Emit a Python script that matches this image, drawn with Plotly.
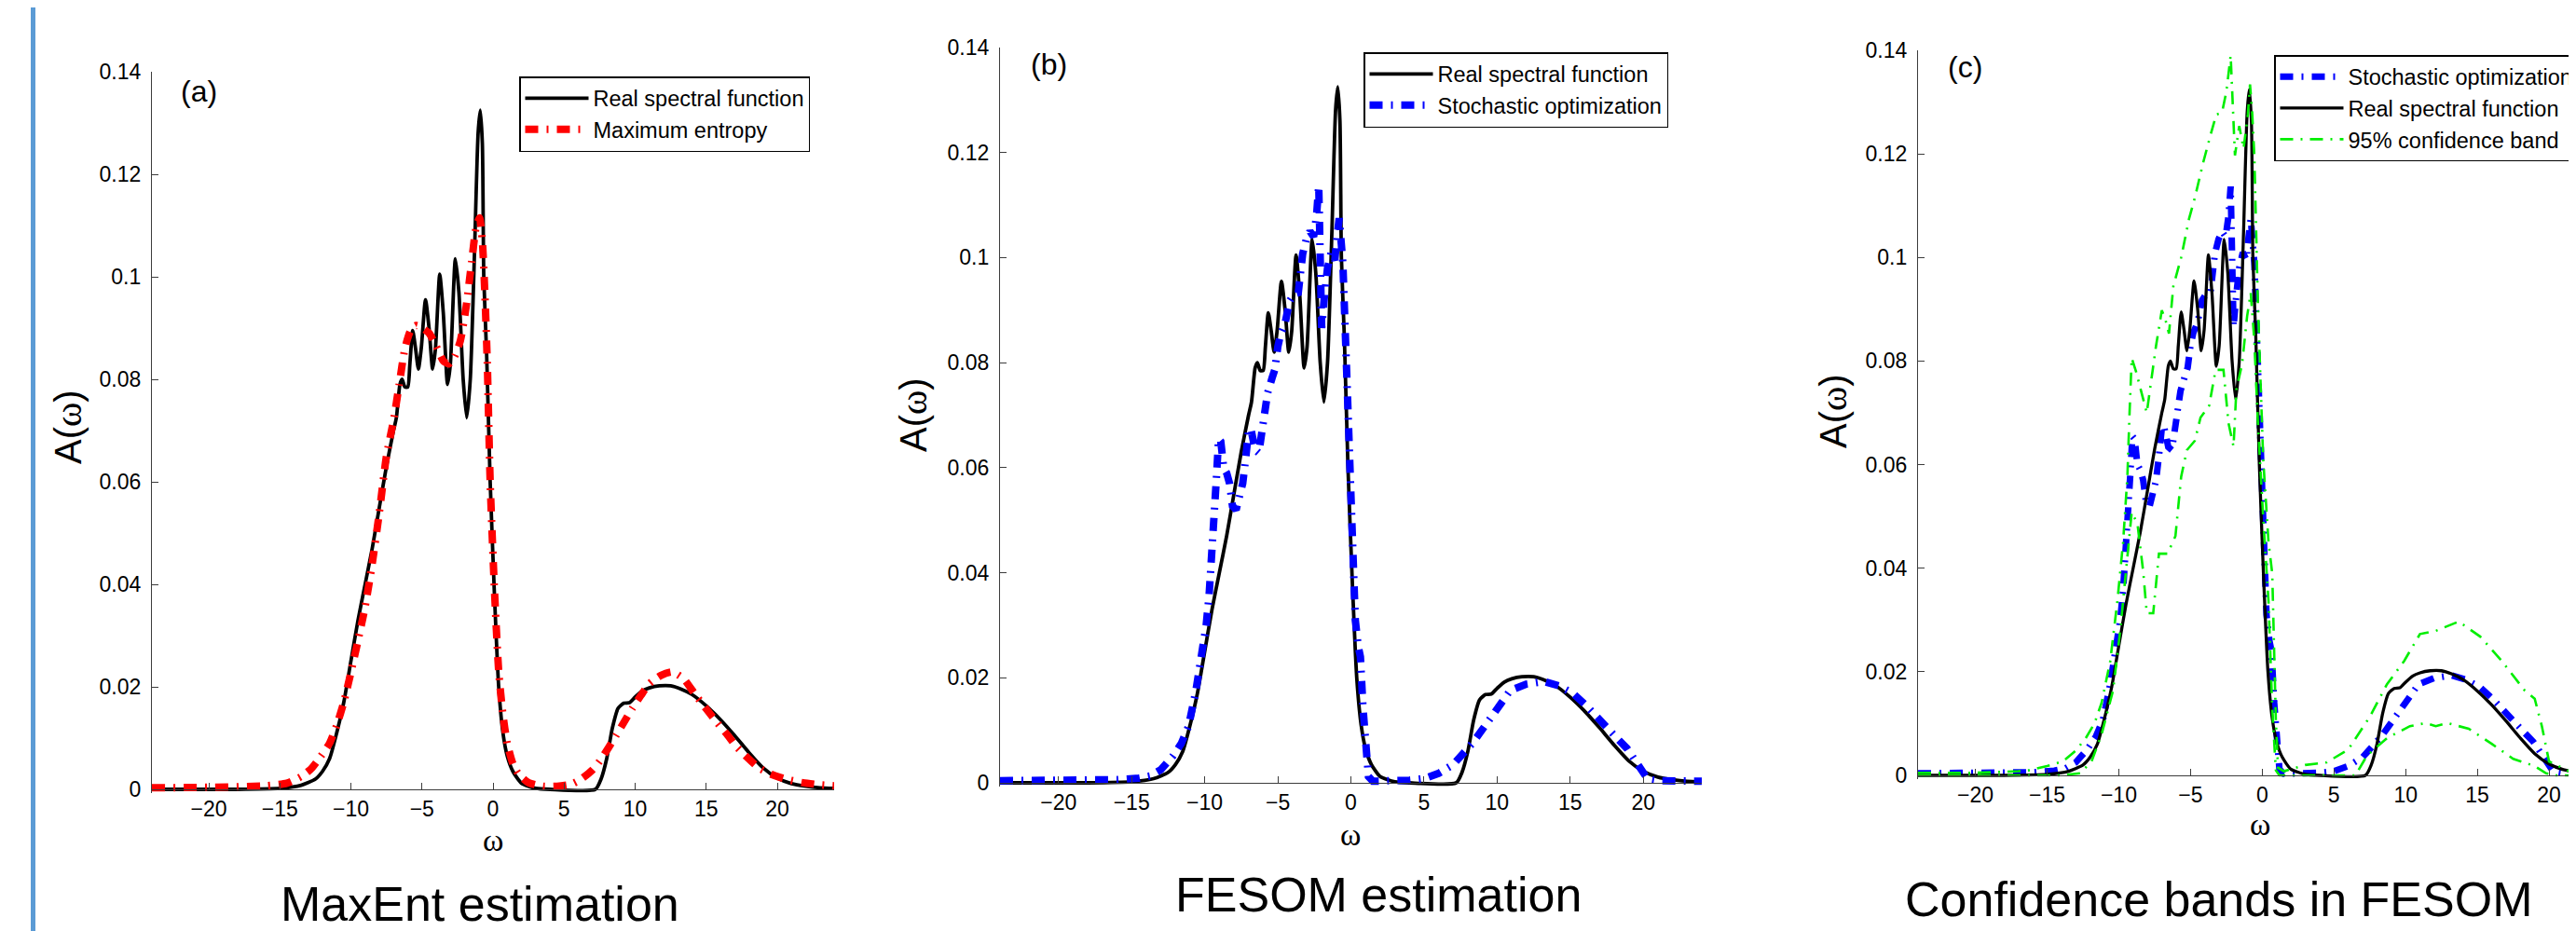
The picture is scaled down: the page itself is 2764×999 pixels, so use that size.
import plotly.graph_objects as go

# ---------------- data ----------------
real_w = [-24, -18, -15, -13.5, -12.5, -12.0, -11.5, -11.0, -10.5, -10.0, -9.5, -9.0, -8.5, -8.0, -7.5,
          -7.0, -6.8, -6.55, -6.4, -6.2, -6.0, -5.85, -5.65, -5.45, -5.25, -5.05, -4.75, -4.5, -4.25,
          -4.05, -3.75, -3.5, -3.2, -3.0, -2.65, -2.4, -2.1, -1.85, -1.6, -1.3, -1.05, -0.9, -0.75,
          -0.65, -0.45, -0.2, 0.1, 0.4, 0.7, 1.0, 1.4, 2.0, 3.0, 4.0, 7.2, 7.6, 8.0, 8.4, 8.8, 9.2,
          9.6, 10.0, 10.5, 11.0, 11.7, 12.5, 13.2, 14.0, 15.0, 16.0, 17.0, 18.0, 19.0, 20.0, 21.0,
          22.0, 23.0, 24.0]
real_a = [0, 0, 0.0002, 0.0008, 0.002, 0.0035, 0.006, 0.011, 0.017, 0.025, 0.033, 0.040, 0.047, 0.055, 0.063,
          0.070, 0.0725, 0.079, 0.080, 0.0785, 0.0785, 0.083, 0.0895, 0.086, 0.082, 0.086, 0.0955, 0.090, 0.082,
          0.086, 0.1005, 0.093, 0.079, 0.083, 0.1035, 0.097, 0.080, 0.0725, 0.080, 0.105, 0.128, 0.1325, 0.126,
          0.100, 0.085, 0.060, 0.038, 0.020, 0.011, 0.0065, 0.0035, 0.0012, 0.0002, 0, 0, 0.002, 0.006, 0.012, 0.0158, 0.0168,
          0.0169, 0.018, 0.0192, 0.0198, 0.0202, 0.0202, 0.0196, 0.0185, 0.0163, 0.0136, 0.0105, 0.0072, 0.0042, 0.0022, 0.0011,
          0.0006, 0.0003, 0.0002]

maxent_w = [-24, -20, -16, -14.5, -13.5, -12.8, -12.1, -11.5, -11.0, -10.5, -10.0, -9.5, -9.0, -8.5, -8.0,
            -7.5, -7.0, -6.6, -6.2, -5.8, -5.4, -5.0, -4.5, -4.0, -3.5, -3.1, -2.7, -2.3, -1.9, -1.5,
            -1.2, -0.95, -0.75, -0.55, -0.4, -0.2, 0.1, 0.4, 0.7, 1.0, 1.4, 1.8, 2.5, 3.5, 4.5, 5.5,
            6.2, 7.0, 7.5, 8.1, 8.7, 9.3, 9.8, 10.4, 11.0, 11.8, 12.6, 13.4, 14.2, 15.0, 15.8, 16.5,
            17.1, 17.9, 18.7, 19.6, 20.6, 21.8, 23.0, 24.0]
maxent_a = [0.0003, 0.0004, 0.0007, 0.0012, 0.0025, 0.004, 0.0065, 0.009, 0.0125, 0.017, 0.0228, 0.029, 0.0356, 0.044, 0.054,
            0.065, 0.072, 0.079, 0.086, 0.0895, 0.0905, 0.0900, 0.089, 0.0865, 0.0836, 0.0830, 0.0845, 0.0875, 0.094, 0.103,
            0.1095, 0.1115, 0.107, 0.095, 0.083, 0.060, 0.039, 0.023, 0.0145, 0.009, 0.005, 0.003, 0.0013, 0.0006, 0.0006, 0.001,
            0.002, 0.0038, 0.0055, 0.008, 0.0107, 0.0135, 0.0158, 0.0183, 0.0206, 0.0222, 0.0229, 0.0216, 0.0186, 0.0157, 0.0129, 0.0106,
            0.0084, 0.0062, 0.0042, 0.0029, 0.002, 0.0013, 0.0009, 0.0007]

stoch_w = [-24, -20, -16, -14.5, -13.75, -13.0, -12.2, -11.6, -11.1, -10.6, -10.2, -9.9, -9.7, -9.5, -9.35,
           -9.2, -9.05, -8.9, -8.7, -8.5, -8.3, -8.1, -7.85, -7.6, -7.4, -7.2, -7.0, -6.85, -6.7, -6.55,
           -6.3, -6.0, -5.7, -5.4, -5.2, -5.0, -4.8, -4.5, -4.2, -3.9, -3.6, -3.45, -3.3, -3.05, -2.8,
           -2.55, -2.35, -2.2, -2.1, -2.0, -1.8, -1.6, -1.35, -1.1, -0.95, -0.8, -0.55, -0.37, -0.14, 0.07,
           0.3, 0.5, 0.65, 0.83, 1.0, 1.2, 1.5, 3.0, 4.0, 5.0, 6.0, 7.0, 8.3, 9.6, 10.9,
           12.0, 13.2, 14.2, 15.2, 16.1, 16.9, 17.6, 18.2, 18.9, 19.5, 20.0, 20.3, 21.0, 23.0, 24.0]
stoch_a = [0.0004, 0.0004, 0.0006, 0.0009, 0.0013, 0.0025, 0.005, 0.0075, 0.0108, 0.0176, 0.024, 0.030, 0.0357, 0.043, 0.050,
           0.058, 0.0655, 0.065, 0.060, 0.059, 0.057, 0.0527, 0.052, 0.0543, 0.057, 0.0617, 0.067, 0.0675, 0.065, 0.0634,
           0.0628, 0.069, 0.0742, 0.077, 0.0787, 0.083, 0.0855, 0.0875, 0.0917, 0.093, 0.0933, 0.097, 0.1007, 0.1035, 0.105,
           0.104, 0.108, 0.1137, 0.100, 0.0866, 0.093, 0.098, 0.101, 0.0995, 0.104, 0.1075, 0.099, 0.0843, 0.066, 0.046,
           0.031, 0.026, 0.024, 0.0142, 0.0075, 0.0012, 0.0003, 0.0003, 0.0005, 0.0008, 0.0018, 0.0035, 0.0075, 0.0125, 0.0176,
           0.0188, 0.0193, 0.0185, 0.017, 0.0147, 0.0125, 0.0104, 0.0085, 0.0065, 0.004, 0.0015, 0.0007, 0.0004, 0.0003, 0.0003]

upper_w = [-24, -20, -17, -16.2, -15, -13.9, -13, -12.3, -11.7, -11.2, -10.6, -10.1, -9.7, -9.4, -9.25,
           -9.1, -8.8, -8.5, -8.05, -7.7, -7.4, -7.0, -6.75, -6.5, -6.2, -5.65, -5.1, -4.7, -4.1, -3.55,
           -3.2, -2.8, -2.5, -2.2, -2.05, -1.9, -1.6, -1.3, -1.0, -0.85, -0.7, -0.55, -0.3, 0.07, 0.44,
           0.7, 0.95, 1.1, 1.5, 2.0, 3.0, 4.5, 6.0, 7.5, 8.7, 9.9, 11.0, 12.1, 13.7, 15.2,
           16.7, 18.3, 19.0, 19.5, 20.0, 21.3, 22.4, 24]
upper_a = [0.0005, 0.0005, 0.0008, 0.001, 0.0018, 0.0027, 0.0048, 0.0072, 0.010, 0.014, 0.022, 0.0336, 0.045, 0.0577, 0.070,
           0.0806, 0.078, 0.075, 0.070, 0.077, 0.083, 0.0898, 0.088, 0.0853, 0.0944, 0.100, 0.1075, 0.1115, 0.1185, 0.1242,
           0.1276, 0.128, 0.132, 0.139, 0.128, 0.1197, 0.1254, 0.121, 0.1276, 0.1334, 0.128, 0.1197, 0.091, 0.061, 0.045,
           0.039, 0.0107, 0.0015, 0.0008, 0.0012, 0.002, 0.0025, 0.005, 0.0113, 0.0176, 0.0221, 0.0273, 0.0279, 0.0297, 0.0268,
           0.0221, 0.0164, 0.0148, 0.0095, 0.0027, 0.0009, 0.0005, 0.0005]

lower_w = [-24, -14, -12.7, -11.9, -11.2, -10.4, -9.9, -9.5, -9.1, -8.7, -8.3, -8.05, -7.6, -7.2, -6.6,
           -6.05, -5.65, -5.25, -4.7, -4.3, -3.7, -3.25, -2.7, -2.35, -2.0, -1.8, -1.4, -1.05, -0.8, -0.55,
           -0.3, 0.07, 0.44, 0.7, 0.95, 1.2, 6.5, 7.3, 8.7, 10.3, 11.4, 12.1, 12.9, 14.4, 16.0,
           17.5, 19.0, 19.8, 20.5, 24]
lower_a = [0, 0, 0.0004, 0.0027, 0.0079, 0.0164, 0.028, 0.0394, 0.0508, 0.0486, 0.0394, 0.0313, 0.0313, 0.0428, 0.0428,
           0.0462, 0.0577, 0.0628, 0.0646, 0.0691, 0.0714, 0.0783, 0.0783, 0.068, 0.0635, 0.0745, 0.0795, 0.0887, 0.0932, 0.084,
           0.068, 0.0497, 0.0336, 0.013, 0.001, 0, 0, 0.0038, 0.0072, 0.0095, 0.0101, 0.0095, 0.0101, 0.009, 0.0061,
           0.0032, 0.0018, 0.0004, 0, 0]

x_ticks = [-20, -15, -10, -5, 0, 5, 10, 15, 20]
x_tick_labels = ["\u221220", "\u221215", "\u221210", "\u22125", "0", "5", "10", "15", "20"]
y_ticks = [0, 0.02, 0.04, 0.06, 0.08, 0.1, 0.12, 0.14]
y_tick_labels = ["0", "0.02", "0.04", "0.06", "0.08", "0.1", "0.12", "0.14"]

panel_titles = ["MaxEnt estimation", "FESOM estimation", "Confidence bands in FESOM"]
panel_tags = ["(a)", "(b)", "(c)"]
name_real = "Real spectral function"
name_maxent = "Maximum entropy"
name_stoch = "Stochastic optimization"
name_band = "95% confidence band"

# ---------------- figure ----------------
W, H = 2764, 999
SANS = "Liberation Sans, Arial, Helvetica, sans-serif"
SERIF = "Liberation Serif, Times New Roman, serif"
AX = "#3c3c3c"

def px(x):
    return x / W

def py(y):
    return 1 - y / H

fig = go.Figure()

DASH = "14px,9px,2px,9px"
GDASH = "14px,8px,2px,8px"

# panel a
fig.add_trace(go.Scatter(x=real_w, y=real_a, mode="lines", name=name_real, xaxis="x", yaxis="y",
                         line=dict(color="black", width=3.8, shape="spline", smoothing=0.6), legend="legend"))
fig.add_trace(go.Scatter(x=maxent_w, y=maxent_a, mode="lines", name=name_maxent, xaxis="x", yaxis="y",
                         line=dict(color="#ff0000", width=8, dash=DASH, shape="spline", smoothing=0.6), legend="legend"))
# panel b
fig.add_trace(go.Scatter(x=real_w, y=real_a, mode="lines", name=name_real, xaxis="x2", yaxis="y2",
                         line=dict(color="black", width=3.8, shape="spline", smoothing=0.6), legend="legend2"))
fig.add_trace(go.Scatter(x=stoch_w, y=stoch_a, mode="lines", name=name_stoch, xaxis="x2", yaxis="y2",
                         line=dict(color="#0000ff", width=8, dash=DASH), legend="legend2"))
# panel c
fig.add_trace(go.Scatter(x=stoch_w, y=stoch_a, mode="lines", name=name_stoch, xaxis="x3", yaxis="y3",
                         line=dict(color="#0000ff", width=7, dash=DASH), legend="legend3"))
fig.add_trace(go.Scatter(x=real_w, y=real_a, mode="lines", name=name_real, xaxis="x3", yaxis="y3",
                         line=dict(color="black", width=3.3, shape="spline", smoothing=0.6), legend="legend3"))
fig.add_trace(go.Scatter(x=upper_w, y=upper_a, mode="lines", name=name_band, xaxis="x3", yaxis="y3",
                         line=dict(color="#00ee00", width=2.6, dash=GDASH), legend="legend3"))
fig.add_trace(go.Scatter(x=lower_w, y=lower_a, mode="lines", name=name_band, xaxis="x3", yaxis="y3",
                         line=dict(color="#00ee00", width=2.6, dash=GDASH), showlegend=False, legend="legend3"))

# geometry per panel
panels = [
    dict(l=155, r=887, xmax=24, zero=839, top=69),
    dict(l=1065, r=1818, xmax=24, zero=832, top=43),
    dict(l=2050, r=2764, xmax=22.4, zero=824, top=46),
]
YMIN = -0.0007
layout = {}
for i, p in enumerate(panels):
    sfx = "" if i == 0 else str(i + 1)
    scale = (p["zero"] - p["top"]) / 0.14
    bottom = p["zero"] - YMIN * scale
    layout["xaxis" + sfx] = dict(
        domain=[px(p["l"]), min(1.0, px(p["r"]))], range=[-24, p["xmax"]],
        anchor="free", position=py(p["zero"]),
        showline=True, linecolor=AX, linewidth=1.3, ticks="inside", ticklen=7, tickwidth=1.3, tickcolor=AX,
        tickvals=x_ticks, ticktext=x_tick_labels, showgrid=False, zeroline=False,
        tickfont=dict(family=SANS, size=23, color="black"), ticklabelstandoff=0,
    )
    layout["yaxis" + sfx] = dict(
        domain=[py(bottom), py(p["top"])], range=[YMIN, 0.14],
        anchor="x" + sfx,
        showline=True, linecolor=AX, linewidth=1.3, ticks="inside", ticklen=7, tickwidth=1.3, tickcolor=AX,
        tickvals=y_ticks, ticktext=y_tick_labels, showgrid=False, zeroline=False,
        tickfont=dict(family=SANS, size=23, color="black"), ticklabelstandoff=6,
    )

legend_common = dict(bgcolor="white", bordercolor="black", borderwidth=1.5,
                     font=dict(family=SANS, size=23.5, color="black"), itemwidth=68,
                     xanchor="left", yanchor="top", traceorder="normal", tracegroupgap=0)
layout["legend"] = dict(legend_common, x=px(549), y=py(74))
layout["legend2"] = dict(legend_common, x=px(1455), y=py(48))
layout["legend3"] = dict(legend_common, x=px(2432), y=py(51))

annotations = []
title_pos = [(507, 962), (1471, 952), (2372, 957)]
tag_pos = [(205, 90), (1117, 61), (2100, 64)]
ylab_pos = [(65, 450), (972, 437), (1959, 433)]
xlab_pos = [(521, 893), (1441, 887), (2417, 876)]
for i in range(3):
    annotations.append(dict(x=px(title_pos[i][0]), y=py(title_pos[i][1]), xref="paper", yref="paper",
                            text=panel_titles[i], showarrow=False, xanchor="center", yanchor="middle",
                            font=dict(family=SANS, size=52, color="black")))
    annotations.append(dict(x=px(tag_pos[i][0]), y=py(tag_pos[i][1]), xref="paper", yref="paper",
                            text=panel_tags[i], showarrow=False, xanchor="center", yanchor="middle",
                            font=dict(family=SANS, size=32, color="black")))
    annotations.append(dict(x=px(ylab_pos[i][0]), y=py(ylab_pos[i][1]), xref="paper", yref="paper",
                            text='A(<span style="font-family:Liberation Serif">\u03c9</span>)', textangle=-90,
                            showarrow=False, xanchor="center", yanchor="middle",
                            font=dict(family=SANS, size=40, color="black")))
    annotations.append(dict(x=px(xlab_pos[i][0]), y=py(xlab_pos[i][1]), xref="paper", yref="paper",
                            text="\u03c9", showarrow=False, xanchor="center", yanchor="middle",
                            font=dict(family=SERIF, size=34, color="black")))

shapes = [dict(type="rect", xref="paper", yref="paper", x0=px(25), x1=px(30), y0=0, y1=1,
               fillcolor="#5b9bd5", line=dict(width=0), layer="above")]

fig.update_layout(
    width=W, height=H, margin=dict(l=0, r=0, t=0, b=0, autoexpand=False),
    paper_bgcolor="white", plot_bgcolor="white",
    annotations=annotations, shapes=shapes, **layout,
)

fig.write_html("out.html", config={"responsive": False})
